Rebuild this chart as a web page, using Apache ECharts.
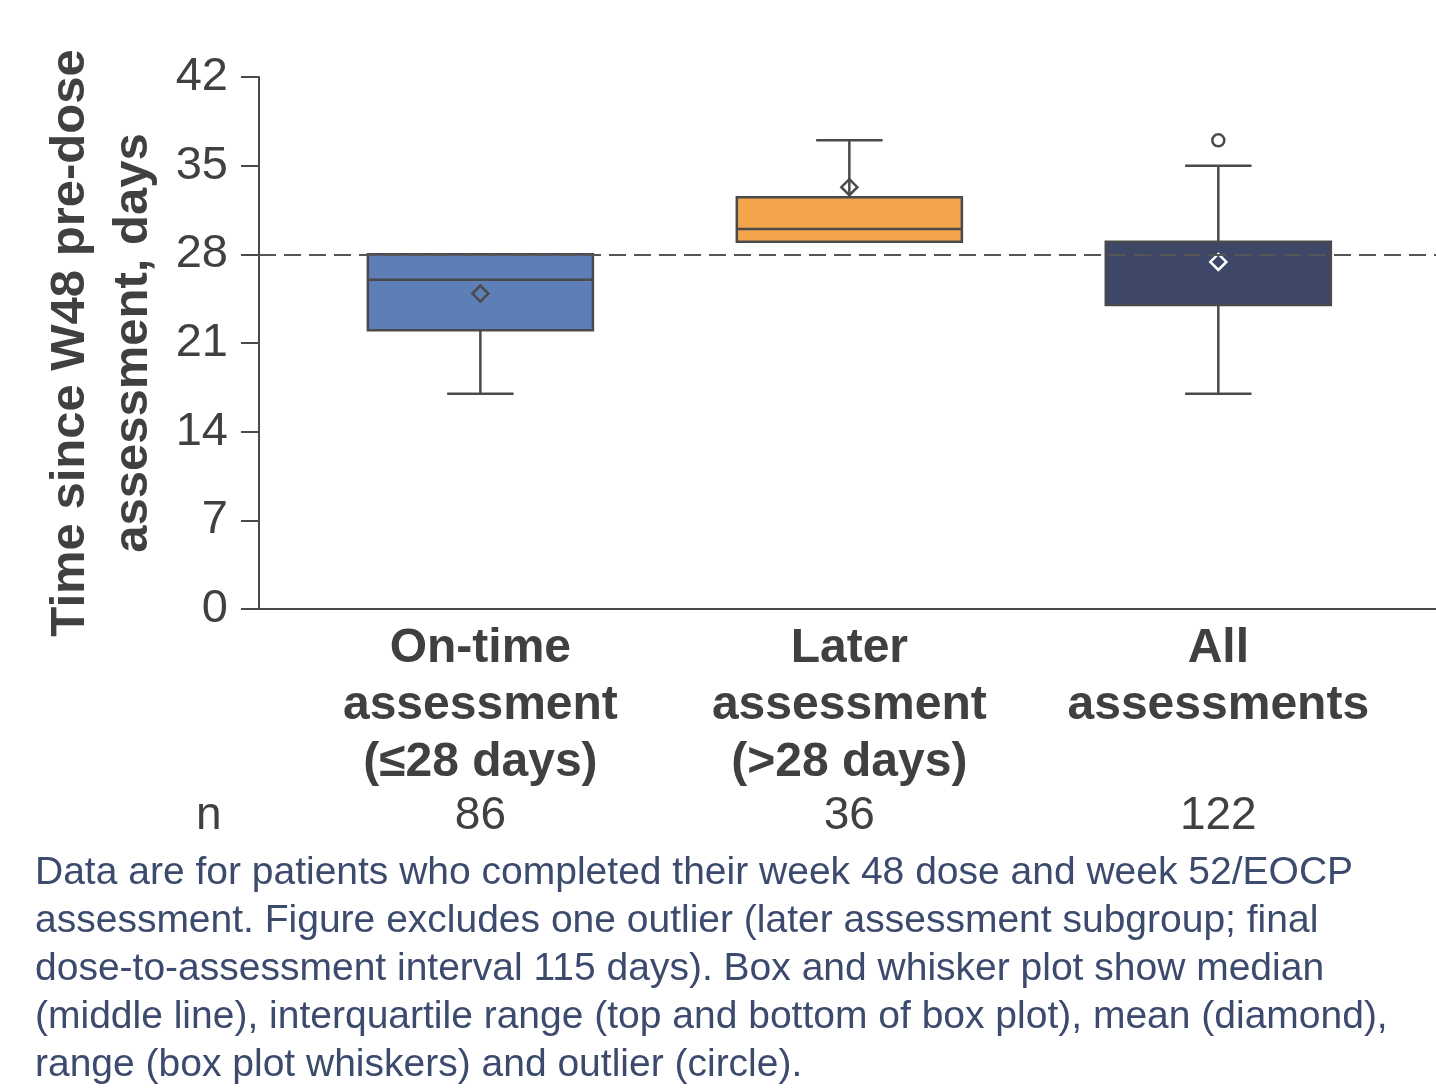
<!DOCTYPE html>
<html>
<head>
<meta charset="utf-8">
<title>Time since W48 pre-dose assessment</title>
<script src="https://cdn.jsdelivr.net/npm/echarts@6/dist/echarts.min.js"></script>
<style>
  html, body { margin: 0; padding: 0; background: #fff; }
  #chart { width: 1436px; height: 1092px; }
</style>
</head>
<body>
<div id="chart"></div>
<script>
// Subgroups and their sizes
const categories = ['On-time\nassessment\n(≤28 days)', 'Later\nassessment\n(>28 days)', 'All\nassessments'];
const nValues = [86, 36, 122];

// Box-and-whisker summaries (days)
const whiskerLow = [17, 29, 17];
const q1 = [22, 29, 24];
const median = [26, 30, null];
const q3 = [28, 32.5, 29];
const whiskerHigh = [28, 37, 35];
const means = [24.9, 33.3, 27.4];

// Outliers: [category index (1-based), value]
const outliers = [[3, 37]];

// Y axis ticks and reference line
const yTicks = [0, 7, 14, 21, 28, 35, 42];
const referenceDay = 28;

const boxColors = ['#5e7eb7', '#f2a54b', '#3e4767'];
const meanStroke = ['#4a4a4a', '#4a4a4a', '#ffffff'];
const lineColor = '#4a4a4a';
const textColor = '#404040';
const fontFamily = '"Liberation Sans", Arial, sans-serif';

const boxData = categories.map((c, i) => [i + 1, whiskerLow[i], q1[i], median[i], q3[i], whiskerHigh[i], means[i]]);

function renderBox(params, api) {
  const i = params.dataIndex;
  const x = api.value(0);
  const lo = api.coord([x, api.value(1)]);
  const b1 = api.coord([x, api.value(2)]);
  const b3 = api.coord([x, api.value(4)]);
  const hi = api.coord([x, api.value(5)]);
  const mn = api.coord([x, api.value(6)]);
  const boxW = api.size([0.61, 0])[0];
  const capW = api.size([0.18, 0])[0];
  const cx = lo[0];
  const stroke = { stroke: lineColor, lineWidth: 2.5 };
  const children = [
    // whiskers
    { type: 'line', shape: { x1: cx, y1: hi[1], x2: cx, y2: b3[1] }, style: stroke },
    { type: 'line', shape: { x1: cx, y1: b1[1], x2: cx, y2: lo[1] }, style: stroke },
    { type: 'line', shape: { x1: cx - capW / 2, y1: hi[1], x2: cx + capW / 2, y2: hi[1] }, style: stroke },
    { type: 'line', shape: { x1: cx - capW / 2, y1: lo[1], x2: cx + capW / 2, y2: lo[1] }, style: stroke },
    // interquartile box
    { type: 'rect', shape: { x: cx - boxW / 2, y: b3[1], width: boxW, height: b1[1] - b3[1] },
      style: { fill: boxColors[i], stroke: lineColor, lineWidth: 2.5 } }
  ];
  const med = api.value(3);
  if (med != null && !isNaN(med)) {
    const m = api.coord([x, med]);
    children.push({ type: 'line', shape: { x1: cx - boxW / 2, y1: m[1], x2: cx + boxW / 2, y2: m[1] }, style: stroke });
  }
  // mean marker (diamond)
  const d = 8;
  children.push({
    type: 'polygon',
    shape: { points: [[cx, mn[1] - d], [cx + d, mn[1]], [cx, mn[1] + d], [cx - d, mn[1]]] },
    style: { fill: 'none', stroke: meanStroke[i], lineWidth: 2.5 }
  });
  return { type: 'group', children: children };
}

const chart = echarts.init(document.getElementById('chart'), null, { renderer: 'canvas' });

chart.setOption({
  backgroundColor: '#ffffff',
  animation: false,
  textStyle: { fontFamily: fontFamily },
  title: {
    left: 35,
    top: 849,
    padding: 0,
    text: 'Data are for patients who completed their week 48 dose and week 52/EOCP\n' +
          'assessment. Figure excludes one outlier (later assessment subgroup; final\n' +
          'dose-to-assessment interval 115 days). Box and whisker plot show median\n' +
          '(middle line), interquartile range (top and bottom of box plot), mean (diamond),\n' +
          'range (box plot whiskers) and outlier (circle).',
    textStyle: { fontFamily: fontFamily, fontSize: 39, fontWeight: 'normal', lineHeight: 48, color: '#3c4a6e' }
  },
  grid: { left: 259, right: 0, top: 77, bottom: 483, containLabel: false },
  xAxis: [
    {
      type: 'value', min: 0.4, max: 3.59,
      axisLine: { show: true, lineStyle: { color: lineColor, width: 2 } },
      axisTick: { show: false },
      splitLine: { show: false },
      axisLabel: {
        customValues: [1, 2, 3],
        formatter: v => categories[Math.round(v) - 1] || '',
        margin: 11,
        color: textColor, fontSize: 48, fontWeight: 'bold', lineHeight: 57, fontFamily: fontFamily
      }
    },
    {
      type: 'value', min: 0.4, max: 3.59, position: 'bottom',
      axisLine: { show: false }, axisTick: { show: false }, splitLine: { show: false },
      axisLabel: {
        customValues: [1, 2, 3],
        formatter: v => String(nValues[Math.round(v) - 1]),
        margin: 184,
        color: textColor, fontSize: 46, fontFamily: fontFamily
      }
    }
  ],
  yAxis: {
    type: 'value', min: 0, max: 42, interval: 7,
    name: 'Time since W48 pre-dose\nassessment, days',
    nameLocation: 'middle', nameRotate: 90, nameGap: 92,
    nameTextStyle: { color: textColor, fontSize: 49, fontWeight: 'bold', lineHeight: 63, fontFamily: fontFamily },
    axisLine: { show: true, lineStyle: { color: lineColor, width: 2 } },
    axisTick: { show: true, inside: false, length: 18, lineStyle: { color: lineColor, width: 2 } },
    splitLine: { show: false },
    axisLabel: {
      margin: 31, color: textColor, fontSize: 47, fontFamily: fontFamily,
      formatter: v => (yTicks.indexOf(v) >= 0 ? String(v) : '')
    }
  },
  graphic: [
    { type: 'text', left: 196, top: 793,
      style: { text: 'n', fontSize: 46, fontFamily: fontFamily, fill: textColor } }
  ],
  series: [
    {
      type: 'custom',
      name: 'Box',
      renderItem: renderBox,
      data: boxData,
      encode: { x: 0, y: [1, 2, 3, 4, 5, 6] },
      z: 2
    },
    {
      type: 'scatter',
      name: 'Outlier',
      data: outliers,
      symbol: 'circle',
      symbolSize: 12,
      itemStyle: { color: '#ffffff', borderColor: lineColor, borderWidth: 2.5, opacity: 1 },
      z: 3
    },
    {
      type: 'line',
      name: 'Reference',
      data: [],
      markLine: {
        silent: true,
        symbol: 'none',
        label: { show: false },
        lineStyle: { color: '#555555', width: 2, type: [17, 8] },
        data: [{ yAxis: referenceDay }]
      },
      z: 4
    }
  ]
});
</script>
</body>
</html>
